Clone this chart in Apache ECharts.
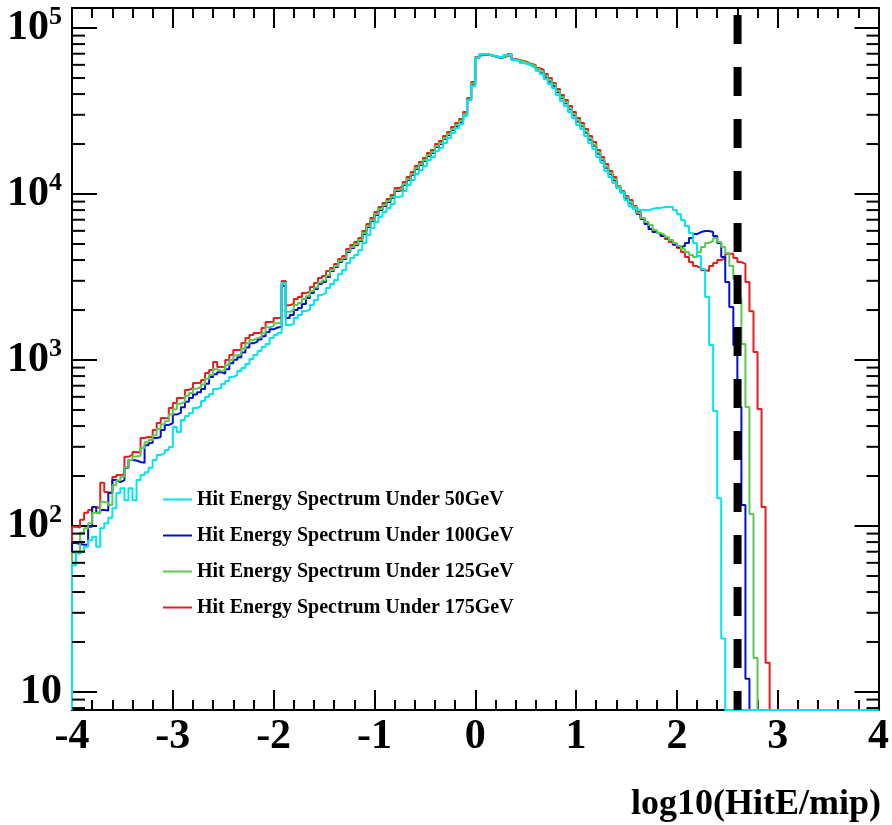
<!DOCTYPE html>
<html><head><meta charset="utf-8">
<script src="https://cdn.jsdelivr.net/npm/echarts/dist/echarts.min.js"></script>
<style>html,body{margin:0;padding:0;background:#fff}#c{width:892px;height:825px}</style>
</head><body><div id="c"></div>
<script>
// Histogram binning: 200 bins of width 0.04 from -4 to 4
const BIN_LO = -4, BIN_W = 0.04;
const NAMES = ['Hit Energy Spectrum Under 50GeV','Hit Energy Spectrum Under 100GeV','Hit Energy Spectrum Under 125GeV','Hit Energy Spectrum Under 175GeV'];
const CUT_X = 2.602; // vertical dashed cut line position (log10(400))
const X_TICKS = [-4,-3,-2,-1,0,1,2,3,4];

const E50 = [
58,69,70,75,82,86,75,97,104,112,
128,158,169,143,169,143,189,203,211,224,
250,268,275,287,299,395,368,435,460,480,
514,528,566,598,624,669,678,717,747,790,
812,859,895,946,1014,1072,1133,1197,1248,1357,
1415,1455,2910,1625,
1648,1790,1866,1972,2000,2143,2297,2466,2535,2717,
2871,3034,3297,3484,3840,4115,4295,4603,5070,5665,
6240,6775,7260,7795,8240,8710,9590,9725,10420,11330,
12140,13190,13960,14760,16040,16710,18160,18930,20290,21740,
23300,24980,26410,29510,36830,44730,
65920,69690,69690,68720,67770,66830,66830,68720,69690,
64130,63240,61500,60680,59020,57410,55070,52840,49290,46000,
43520,39460,36310,33880,31170,28690,26050,24640,22350,20290,
18640,16710,15380,13770,12660,11640,10870,10140,9200,8470,8125,
8020,8050,7990,8125,8240,8250,8360,8370,8340,8020,
7580,6970,6420,5820,5070,4235,3530,2398,1231,493,147,21,
0,0,0,0,0,0,0,0,0,0,0,0,0,0,0,0,0,0,0,0,
0,0,0,0,0,0,0,0,0,0,0,0,0,0,0,0,0,0];

const E100 = [
79,78,77,77,99,130,120,125,124,158,
189,184,189,224,250,248,243,240,307,316,
339,344,379,406,417,470,480,520,560,590,
620,640,668,720,790,820,845,830,880,955,
1005,1040,1110,1190,1260,1290,1330,1390,1470,1530,
1570,1580,2800,1790,
1866,1999,2059,2175,2366,2536,2678,2869,2950,3161,
3434,3632,3892,4059,4477,4732,4932,5210,5742,6329,
6867,7476,8011,8469,8950,9460,10424,10568,11316,12131,
13023,14155,14960,15804,16936,17655,19180,19995,21424,22652,
24291,25692,27149,29911,37000,45900,
66000,68500,69200,68400,67300,66300,66500,67800,69000,
64500,63600,62200,61400,59800,58500,56100,54100,50800,47700,
44900,41000,37700,35200,32400,29800,27300,25600,23400,21200,
19500,17500,16000,14400,13200,12100,11000,10200,9450,8800,8300,
7580,7070,6590,6150,5900,5740,5580,5430,5280,5000,
4800,4865,5070,5430,5740,5900,5990,5980,5900,5580,
5070,4170,2950,2085,1231,521,134,12,
0,0,0,0,0,0,0,0,0,0,0,0,0,0,0,0,
0,0,0,0,0,0,0,0,0,0,0,0,0,0,0,0];

const E125 = [
69,68,91,97,104,120,119,140,138,134,
176,188,198,226,250,262,265,295,320,330,
352,384,410,428,470,505,545,560,610,632,
672,690,712,772,812,880,860,868,935,1000,
1065,1085,1170,1260,1320,1355,1375,1450,1575,1600,
1665,1680,2900,1950,
2001,2144,2208,2332,2418,2591,2736,2932,3015,3230,
3484,3685,3948,4119,4542,4801,5004,5286,5826,6422,
6968,7585,8127,8593,9081,9599,10576,10722,11481,12308,
13213,14361,15179,16035,17183,17913,19460,20287,21737,22982,
24646,26067,27546,30348,37120,46350,
66400,68900,69400,68500,67500,66600,66600,68000,69300,
64700,63900,62600,61800,60200,59000,56600,54700,51500,48500,
45600,41800,38400,35800,32900,30300,27800,26000,23800,21600,
19800,17800,16200,14600,13400,12300,11100,10300,9550,8900,8350,
7690,7165,6775,6500,6070,5820,5665,5500,5280,5070,
4865,4668,4480,4295,4170,4480,4800,5070,5210,5430,
5140,4800,4415,3680,3075,2330,1248,521,118,16,
0,0,0,0,0,0,0,0,0,0,0,0,0,0,0,
0,0,0,0,0,0,0,0,0,0,0,0,0,0,0];

const E175 = [
99,98,109,120,125,130,128,182,160,158,
197,203,205,261,268,279,276,339,344,342,
379,417,447,445,514,551,590,592,660,678,
727,730,758,836,871,973,907,910,1000,1072,
1149,1150,1265,1357,1415,1455,1460,1560,1695,1700,
1790,1795,2990,2140,
2175,2330,2400,2535,2572,2756,2911,3119,3207,3436,
3581,3787,4058,4233,4668,4934,5143,5433,5988,6600,
7161,7796,8353,8831,9333,9865,10870,11020,11800,12650,
13580,14760,15600,16480,17660,18410,20000,20850,22340,23620,
25330,26790,28310,31190,37880,47300,
66830,68720,69690,68720,67770,66830,66830,67770,69690,
65030,64130,63240,62370,60680,59840,57410,55840,52840,50000,
46660,42940,39460,36830,33880,31170,28690,26780,24640,22350,
20560,18410,16710,15170,13770,12660,11170,10420,9720,9200,
8470,7790,7165,6590,6150,5900,5740,5580,5360,5140,
4930,4730,4480,4170,3890,3680,3580,3480,3440,3680,
3840,4000,4110,4360,4360,4110,3890,3790,2950,1970,
1117,507,130,15,
0,0,0,0,0,0,0,0,0,0,0,0,0,0,
0,0,0,0,0,0,0,0,0,0,0,0,0];

const YMIN = 7.79, YMAX = 1.32e5, XMIN = -4, XMAX = 4;
const SERIF = '"Liberation Serif","Times New Roman",serif';
const COLORS = {c50:'#00e6f0', c100:'#0010d0', c125:'#5cc84c', c175:'#e81c1c'};

// log minor tick values (2..9 x decade) inside the axis range
const Y_MINOR = [];
for (let k = 0; k <= 5; k++) for (let m = 2; m <= 9; m++) { const v = m * Math.pow(10, k); if (v > YMIN && v < YMAX) Y_MINOR.push(v); }

function toSteps(arr) {
  const pts = [[BIN_LO, YMIN]];
  arr.forEach((v, i) => pts.push([+(BIN_LO + i * BIN_W).toFixed(2), v > 0 ? v : YMIN]));
  const last = arr[arr.length - 1];
  pts.push([+(BIN_LO + arr.length * BIN_W).toFixed(2), last > 0 ? last : YMIN]);
  return pts;
}
function hist(name, arr, color, z) {
  return {name, type:'line', step:'end', data: toSteps(arr), showSymbol:false, symbol:'none', clip:false,
    lineStyle:{color, width:2}, itemStyle:{color}, z, animation:false};
}

const chart = echarts.init(document.getElementById('c'), null, {renderer:'canvas'});
const axisLineStyle = {color:'#000', width:2};
const xBase = {type:'value', min:XMIN, max:XMAX, interval:1,
  axisLine:{show:true, onZero:false, lineStyle:axisLineStyle},
  axisTick:{show:true, inside:true, length:20, lineStyle:{color:'#000', width:2}},
  minorTick:{show:true, splitNumber:5, length:10, lineStyle:{color:'#000', width:2}},
  splitLine:{show:false}, minorSplitLine:{show:false}};
const yBase = {type:'log', logBase:10, min:YMIN, max:YMAX,
  axisLine:{show:true, onZero:false, lineStyle:axisLineStyle},
  axisTick:{show:true, inside:true, length:25, lineStyle:{color:'#000', width:2}},
  splitLine:{show:false}};

chart.setOption({
  animation:false,
  backgroundColor:'#fff',
  grid:{left:72, right:12, top:8, bottom:115, containLabel:false},
  title:{text:'log10(HitE/mip)', right:11, bottom:2, padding:0,
    textStyle:{fontFamily:SERIF, fontWeight:'bold', fontSize:36, color:'#000'}},
  legend:{data:NAMES, orient:'vertical', left:163, top:487, padding:0, itemWidth:29, itemHeight:2, itemGap:11,
    icon:'rect', selectedMode:false,
    textStyle:{fontFamily:SERIF, fontWeight:'bold', fontSize:20, color:'#000', lineHeight:25}},
  xAxis:[
    Object.assign({}, xBase, {position:'bottom',
      axisLabel:{show:true, margin:6, fontFamily:SERIF, fontWeight:'bold', fontSize:42, color:'#000',
        formatter: v => (X_TICKS.indexOf(Math.round(v)) >= 0 ? String(Math.round(v)) : '')}}),
    Object.assign({}, xBase, {position:'top', axisLabel:{show:false}})
  ],
  yAxis:[
    Object.assign({}, yBase, {position:'left',
      axisLabel:{show:true, margin:10, color:'#000',
        formatter: v => {
          const l = Math.log10(v), e = Math.round(l);
          if (Math.abs(l - e) > 1e-6) return '';
          return e === 1 ? '{b|10}' : '{b|10}{s|' + e + '}';
        },
        rich:{
          b:{fontFamily:SERIF, fontWeight:'bold', fontSize:42, color:'#000', lineHeight:48},
          s:{fontFamily:SERIF, fontWeight:'bold', fontSize:26, color:'#000', lineHeight:26, verticalAlign:'top'}
        }}}),
    Object.assign({}, yBase, {position:'right', axisTick:{show:true, inside:true, length:24, lineStyle:{color:'#000', width:2}}, axisLabel:{show:false}})
  ],
  series:[
    hist(NAMES[3], E175, COLORS.c175, 2),
    hist(NAMES[1], E100, COLORS.c100, 3),
    hist(NAMES[2], E125, COLORS.c125, 4),
    hist(NAMES[0], E50, COLORS.c50, 5),
    {name:'cut', type:'line', data:[[CUT_X, YMIN],[CUT_X, YMAX]], showSymbol:false, symbol:'none', clip:false,
      lineStyle:{color:'#000', width:8, type:[29,23], dashOffset:10}, z:10, animation:false, silent:true},
    {name:'yminor', type:'custom', data: Y_MINOR.map(v => [XMIN, v]), z:11, silent:true, clip:false,
      renderItem:(params, api) => {
        const v = api.value(1);
        const pL = api.coord([XMIN, v]);
        const pR = api.coord([XMAX, v]);
        return {type:'group', children:[
          {type:'line', shape:{x1:pL[0], y1:pL[1], x2:pL[0] + 13, y2:pL[1]}, style:{stroke:'#000', lineWidth:2}},
          {type:'line', shape:{x1:pR[0] - 12, y1:pR[1], x2:pR[0], y2:pR[1]}, style:{stroke:'#000', lineWidth:2}}
        ]};
      }}
  ]
});
</script>
</body></html>
